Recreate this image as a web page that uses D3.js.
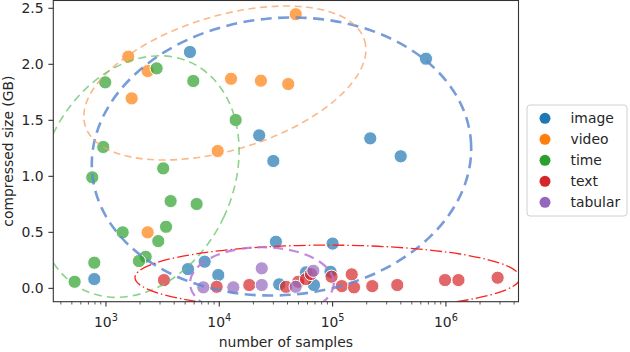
<!DOCTYPE html>
<html><head><meta charset="utf-8">
<script src="https://cdn.jsdelivr.net/npm/d3@7"></script>
<style>
html,body{margin:0;padding:0;background:#fff;}
text{font-family:"DejaVu Sans",sans-serif;}
</style></head>
<body><svg id="chart" width="630" height="352"></svg>
<script>
// ---------------- data ----------------
const categories = ["image","video","time","text","tabular"];
const colors = ["#1f77b4","#ff7f0e","#2ca02c","#d62728","#9467bd"];

const imageSamples = [5510,667000,22500,30000,215000,399000,789,5300,7430,9800,31600,100000,33800,58300,68500,95800];
const imageSize    = [2.11,2.05,1.366,1.137,1.339,1.179,0.083,0.172,0.238,0.119,0.416,0.40,0.036,0.143,0.03,0.148];

const videoSamples = [1574,1686,2333,9680,12700,23300,40600,47300,2333];
const videoSize    = [2.068,1.696,1.94,1.226,1.871,1.854,1.824,2.447,0.5];

const timeSamples = [985,2800,5900,13950,947,3200,757,3720,6310,1404,3390,2895,2240,1955,789,529];
const timeSize    = [1.839,1.964,1.851,1.503,1.262,1.071,0.991,0.779,0.753,0.5,0.55,0.422,0.282,0.244,0.229,0.059];

const textSamples = [3250,9480,18400,38800,49800,58200,64400,97900,147500,120500,154500,224000,372000,982000,1290000,2860000];
const textSize    = [0.074,0.014,0.03,0.014,0.059,0.083,0.128,0.104,0.125,0.02,0.009,0.02,0.03,0.074,0.074,0.095];

const tabularSamples = [7230,13300,23700,23700,47200,67600];
const tabularSize    = [0.009,0.009,0.03,0.179,0.014,0.157];

// ellipses: centre (samples, GB), semi-axes (decades, GB), rotation (deg)
const ellipseCat    = ["image","video","time","text","tabular"];
const ellipseCx     = [35400, 11200, 1915, 90200, 23800];
const ellipseCy     = [1.177, 1.833, 0.998, 0.096, 0.047];
const ellipseRxDec  = [1.677, 1.289, 0.838, 1.699, 0.635];
const ellipseRyGB   = [1.237, 0.598, 1.122, 0.29, 0.32];
const ellipseAngle  = [-5, -17, 25, 0, 0];

const xMajorTicks = [1e3,1e4,1e5,1e6];
const xMajorExp   = ["3","4","5","6"];
const yTicks = [0,0.5,1.0,1.5,2.0,2.5];
const yTickLabels = ["0.0","0.5","1.0","1.5","2.0","2.5"];
const xLabel = "number of samples";
const yLabel = "compressed size (GB)";

// ---------------- drawing ----------------
const svg = d3.select("#chart");
const L = 53.3, R = 518.5, T = 0.5, B = 301.7;
const x = d3.scaleLog().domain([343, 4.37e6]).range([L, R]);
const y = d3.scaleLinear().domain([-0.119, 2.5696]).range([B, T]);
const FS = 13.9;
const ink = "#262626";

const series = [
  {name:"image", xs:imageSamples, ys:imageSize},
  {name:"video", xs:videoSamples, ys:videoSize},
  {name:"time", xs:timeSamples, ys:timeSize},
  {name:"text", xs:textSamples, ys:textSize},
  {name:"tabular", xs:tabularSamples, ys:tabularSize}
];
const color = d3.scaleOrdinal().domain(categories).range(colors);

svg.append("defs").append("clipPath").attr("id","clip")
  .append("rect").attr("x",L).attr("y",T).attr("width",R-L).attr("height",B-T);

// points
const gPts = svg.append("g").attr("clip-path","url(#clip)");
series.forEach(s => {
  const pts = s.xs.map((v,i)=>({x:v,y:s.ys[i]}));
  gPts.selectAll(null).data(pts).enter().append("circle")
    .attr("cx",d=>x(d.x)).attr("cy",d=>y(d.y)).attr("r",6.6)
    .attr("fill",color(s.name)).attr("fill-opacity",0.7)
    .attr("stroke","#fff").attr("stroke-width",1);
});

// ellipses
const eStyle = {
  image:   {stroke:"#5f8bd4", w:2.6, dash:"11,6.5", op:0.85},
  video:   {stroke:"#f9a062", w:1.6, dash:"7,4.5", op:0.75},
  time:    {stroke:"#66c466", w:1.6, dash:"8,5", op:0.75},
  text:    {stroke:"#ff2020", w:1.3, dash:"12,3,1.5,3", op:1},
  tabular: {stroke:"#b974d6", w:2.2, dash:"10,6", op:0.85}
};
const gEll = svg.append("g").attr("clip-path","url(#clip)");
ellipseCat.forEach((c,i)=>{
  const cx = x(ellipseCx[i]), cy = y(ellipseCy[i]);
  const lc = Math.log10(ellipseCx[i]);
  const rx = x(Math.pow(10, lc + ellipseRxDec[i])) - cx;
  const ry = y(ellipseCy[i] - ellipseRyGB[i]) - cy;
  const st = eStyle[c];
  gEll.append("ellipse")
    .attr("transform",`translate(${cx},${cy}) rotate(${ellipseAngle[i]})`)
    .attr("rx",rx).attr("ry",ry)
    .attr("fill","none").attr("stroke",st.stroke).attr("stroke-width",st.w)
    .attr("stroke-dasharray",st.dash).attr("stroke-opacity",st.op);
});

// frame
svg.append("rect").attr("x",L).attr("y",T).attr("width",R-L).attr("height",B-T)
  .attr("fill","none").attr("stroke","#333").attr("stroke-width",1.1);

// x ticks
const gx = svg.append("g");
const [d0,d1] = x.domain();
const minor = [];
for (let e=Math.floor(Math.log10(d0)); e<=Math.ceil(Math.log10(d1)); e++){
  for (let k=2;k<=9;k++){ const v=k*Math.pow(10,e); if(v>=d0 && v<=d1) minor.push(v); }
}
gx.selectAll(null).data(minor).enter().append("line")
  .attr("x1",d=>x(d)).attr("x2",d=>x(d)).attr("y1",B).attr("y2",B+2.8)
  .attr("stroke","#333").attr("stroke-width",0.8);
gx.selectAll(null).data(xMajorTicks).enter().append("line")
  .attr("x1",d=>x(d)).attr("x2",d=>x(d)).attr("y1",B).attr("y2",B+4.9)
  .attr("stroke","#333").attr("stroke-width",1.1);
const xl = gx.selectAll(null).data(xMajorTicks).enter().append("text")
  .attr("x",d=>x(d)).attr("y",B+25).attr("text-anchor","middle")
  .attr("font-size",FS).attr("fill",ink);
xl.append("tspan").text("10");
xl.append("tspan").attr("dy",-5.5).attr("font-size",FS*0.7).text((d,i)=>xMajorExp[i]);

// y ticks
const gy = svg.append("g");
gy.selectAll(null).data(yTicks).enter().append("line")
  .attr("x1",L-4.9).attr("x2",L).attr("y1",d=>y(d)).attr("y2",d=>y(d))
  .attr("stroke","#333").attr("stroke-width",1.1);
gy.selectAll(null).data(yTicks).enter().append("text")
  .attr("x",L-9.8).attr("y",d=>y(d)).attr("dy","0.36em").attr("text-anchor","end")
  .attr("font-size",FS).attr("fill",ink).text((d,i)=>yTickLabels[i]);

// axis labels
svg.append("text").attr("x",(L+R)/2).attr("y",347).attr("text-anchor","middle")
  .attr("font-size",FS).attr("fill",ink).text(xLabel);
svg.append("text").attr("transform",`translate(13,${(T+B)/2}) rotate(-90)`)
  .attr("text-anchor","middle").attr("font-size",FS).attr("fill",ink).text(yLabel);

// legend
const lg = svg.append("g");
lg.append("rect").attr("x",527).attr("y",105).attr("width",100).attr("height",111)
  .attr("rx",3).attr("fill","#fff").attr("fill-opacity",0.8)
  .attr("stroke","#d0d0d0").attr("stroke-width",1);
categories.forEach((c,i)=>{
  const yy = 118.3 + i*21;
  lg.append("circle").attr("cx",545).attr("cy",yy).attr("r",5.5).attr("fill",color(c));
  lg.append("text").attr("x",570.5).attr("y",yy).attr("dy","0.36em")
    .attr("font-size",FS).attr("fill",ink).text(c);
});
</script></body></html>
